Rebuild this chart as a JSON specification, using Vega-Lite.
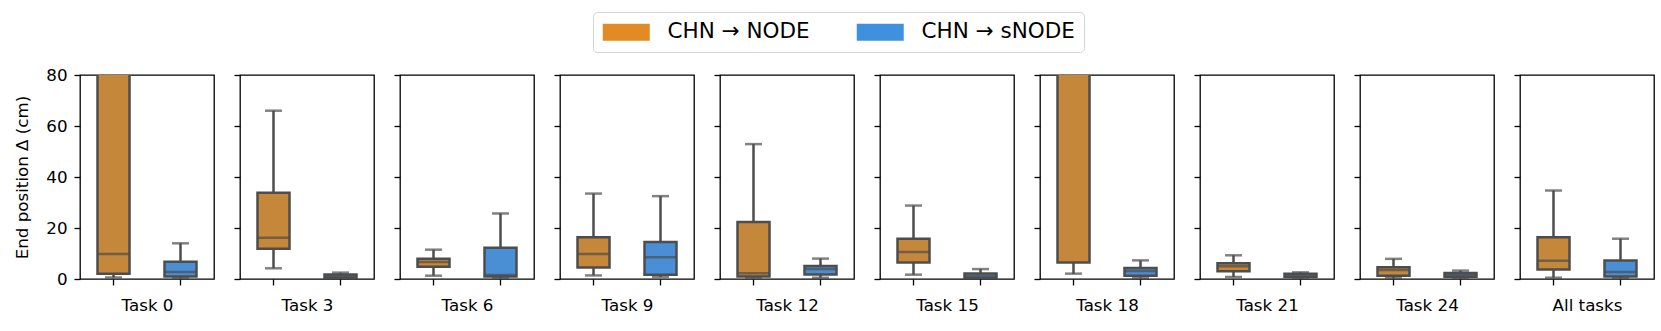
{
"$schema": "https://vega.github.io/schema/vega-lite/v6.json",
"padding": {"left": 14, "top": 11, "right": 10, "bottom": 5},
"background": "white",
"config": {
  "font": "DejaVu Sans",
  "view": {"stroke": "black", "strokeWidth": 1.3},
  "axis": {"domain": false, "grid": false, "tickColor": "black", "tickWidth": 1.3, "tickSize": 6, "labelFontSize": 16.7, "labelColor": "black", "labelPadding": 7, "titleFontSize": 16.7, "titleFontWeight": "normal", "titleColor": "black"},
  "axisX": {"titlePadding": 12},
  "axisY": {"titlePadding": 14},
  "concat": {"spacing": 17}
},
"datasets": {
  "boxes": [
    {"task": "Task 0", "model": "CHN → NODE", "lo": 0.6, "q1": 2.1, "med": 9.8, "q3": 130, "hi": 250},
    {"task": "Task 0", "model": "CHN → sNODE", "lo": 0.4, "q1": 1.0, "med": 2.7, "q3": 6.8, "hi": 14.0},
    {"task": "Task 3", "model": "CHN → NODE", "lo": 4.2, "q1": 11.9, "med": 16.2, "q3": 33.8, "hi": 66.0},
    {"task": "Task 3", "model": "CHN → sNODE", "lo": 0.2, "q1": 0.5, "med": 1.1, "q3": 1.8, "hi": 2.5},
    {"task": "Task 6", "model": "CHN → NODE", "lo": 1.3, "q1": 4.8, "med": 6.7, "q3": 7.9, "hi": 11.5},
    {"task": "Task 6", "model": "CHN → sNODE", "lo": 0.3, "q1": 1.0, "med": 1.6, "q3": 12.3, "hi": 25.7},
    {"task": "Task 9", "model": "CHN → NODE", "lo": 1.4, "q1": 4.5, "med": 9.8, "q3": 16.4, "hi": 33.5},
    {"task": "Task 9", "model": "CHN → sNODE", "lo": 0.8, "q1": 1.7, "med": 8.5, "q3": 14.5, "hi": 32.5},
    {"task": "Task 12", "model": "CHN → NODE", "lo": 0.5, "q1": 1.0, "med": 2.3, "q3": 22.4, "hi": 52.9},
    {"task": "Task 12", "model": "CHN → sNODE", "lo": 0.5, "q1": 1.8, "med": 3.9, "q3": 5.1, "hi": 8.0},
    {"task": "Task 15", "model": "CHN → NODE", "lo": 1.7, "q1": 6.5, "med": 10.6, "q3": 15.8, "hi": 28.8},
    {"task": "Task 15", "model": "CHN → sNODE", "lo": 0.1, "q1": 0.4, "med": 1.2, "q3": 2.2, "hi": 3.9},
    {"task": "Task 18", "model": "CHN → NODE", "lo": 2.1, "q1": 6.5, "med": 100, "q3": 200, "hi": 400},
    {"task": "Task 18", "model": "CHN → sNODE", "lo": 0.5, "q1": 1.3, "med": 3.1, "q3": 4.3, "hi": 7.3},
    {"task": "Task 21", "model": "CHN → NODE", "lo": 0.8, "q1": 3.0, "med": 5.0, "q3": 6.2, "hi": 9.3},
    {"task": "Task 21", "model": "CHN → sNODE", "lo": 0.3, "q1": 0.8, "med": 1.4, "q3": 2.1, "hi": 2.6},
    {"task": "Task 24", "model": "CHN → NODE", "lo": 0.3, "q1": 1.3, "med": 3.5, "q3": 4.6, "hi": 7.9},
    {"task": "Task 24", "model": "CHN → sNODE", "lo": 0.2, "q1": 0.9, "med": 1.7, "q3": 2.4, "hi": 3.3},
    {"task": "All tasks", "model": "CHN → NODE", "lo": 0.5, "q1": 3.7, "med": 7.2, "q3": 16.4, "hi": 34.7},
    {"task": "All tasks", "model": "CHN → sNODE", "lo": 0.3, "q1": 1.0, "med": 2.7, "q3": 7.3, "hi": 15.8}
  ]
},
"data": {"name": "boxes"},
"hconcat": [
{"width": 134, "height": 204, "transform": [{"filter": "datum.task === 'Task 0'"}],
 "encoding": {"x": {"field": "model", "type": "nominal", "scale": {"domain": ["CHN → NODE", "CHN → sNODE"], "paddingInner": 0, "paddingOuter": 0}, "axis": {"labels": false, "title": "Task 0"}}},
 "layer": [
  {"mark": {"type": "rule", "clip": true, "color": "#4d4d4d", "strokeWidth": 2.5}, "encoding": {"y": {"field": "lo", "type": "quantitative", "scale": {"domain": [0, 80], "nice": false, "zero": false}, "axis": {"values": [0, 20, 40, 60, 80], "title": "End position Δ (cm)"}}, "y2": {"field": "hi"}}},
  {"mark": {"type": "bar", "clip": true, "opacity": 0, "width": 32}, "encoding": {"y": {"field": "q1", "type": "quantitative"}, "y2": {"field": "q3"},
    "color": {"field": "model", "type": "nominal", "scale": {"domain": ["CHN → NODE", "CHN → sNODE"], "range": ["#E28A24", "#3F91E0"]}, "legend": {"title": null, "orient": "none", "legendX": 513, "legendY": -63, "direction": "horizontal", "symbolType": "M-1,-0.85H3.7V0.85H-1Z", "symbolSize": 400, "symbolStrokeWidth": 0, "symbolOpacity": 1, "labelOffset": 44, "columnPadding": 46, "labelFontSize": 21.5, "labelColor": "black", "padding": 9, "strokeColor": "#d4d4d4", "fillColor": "white", "cornerRadius": 4, "labelLimit": 400}}}},
  {"mark": {"type": "bar", "clip": true, "width": 32, "stroke": "#4d4d4d", "strokeWidth": 2.5}, "encoding": {"y": {"field": "q1", "type": "quantitative"}, "y2": {"field": "q3"}, "fill": {"field": "model", "type": "nominal", "scale": {"domain": ["CHN → NODE", "CHN → sNODE"], "range": ["#C5873A", "#4A8FD6"]}, "legend": null}}},
  {"mark": {"type": "tick", "clip": true, "color": "#4d4d4d", "thickness": 2.5, "size": 32}, "encoding": {"y": {"field": "med", "type": "quantitative"}}},
  {"mark": {"type": "tick", "clip": true, "color": "#4d4d4d", "thickness": 2.5, "size": 17}, "encoding": {"y": {"field": "lo", "type": "quantitative"}}},
  {"mark": {"type": "tick", "clip": true, "color": "#4d4d4d", "thickness": 2.5, "size": 17}, "encoding": {"y": {"field": "hi", "type": "quantitative"}}}
 ]},
{"width": 134, "height": 204, "transform": [{"filter": "datum.task === 'Task 3'"}],
 "encoding": {"x": {"field": "model", "type": "nominal", "scale": {"domain": ["CHN → NODE", "CHN → sNODE"], "paddingInner": 0, "paddingOuter": 0}, "axis": {"labels": false, "title": "Task 3"}}},
 "layer": [
  {"mark": {"type": "rule", "clip": true, "color": "#4d4d4d", "strokeWidth": 2.5}, "encoding": {"y": {"field": "lo", "type": "quantitative", "scale": {"domain": [0, 80], "nice": false, "zero": false}, "axis": {"values": [0, 20, 40, 60, 80], "labels": false, "title": null}}, "y2": {"field": "hi"}}},
  {"mark": {"type": "bar", "clip": true, "width": 32, "stroke": "#4d4d4d", "strokeWidth": 2.5}, "encoding": {"y": {"field": "q1", "type": "quantitative"}, "y2": {"field": "q3"}, "fill": {"field": "model", "type": "nominal", "scale": {"domain": ["CHN → NODE", "CHN → sNODE"], "range": ["#C5873A", "#4A8FD6"]}, "legend": null}}},
  {"mark": {"type": "tick", "clip": true, "color": "#4d4d4d", "thickness": 2.5, "size": 32}, "encoding": {"y": {"field": "med", "type": "quantitative"}}},
  {"mark": {"type": "tick", "clip": true, "color": "#4d4d4d", "thickness": 2.5, "size": 17}, "encoding": {"y": {"field": "lo", "type": "quantitative"}}},
  {"mark": {"type": "tick", "clip": true, "color": "#4d4d4d", "thickness": 2.5, "size": 17}, "encoding": {"y": {"field": "hi", "type": "quantitative"}}}
 ]},
{"width": 134, "height": 204, "transform": [{"filter": "datum.task === 'Task 6'"}],
 "encoding": {"x": {"field": "model", "type": "nominal", "scale": {"domain": ["CHN → NODE", "CHN → sNODE"], "paddingInner": 0, "paddingOuter": 0}, "axis": {"labels": false, "title": "Task 6"}}},
 "layer": [
  {"mark": {"type": "rule", "clip": true, "color": "#4d4d4d", "strokeWidth": 2.5}, "encoding": {"y": {"field": "lo", "type": "quantitative", "scale": {"domain": [0, 80], "nice": false, "zero": false}, "axis": {"values": [0, 20, 40, 60, 80], "labels": false, "title": null}}, "y2": {"field": "hi"}}},
  {"mark": {"type": "bar", "clip": true, "width": 32, "stroke": "#4d4d4d", "strokeWidth": 2.5}, "encoding": {"y": {"field": "q1", "type": "quantitative"}, "y2": {"field": "q3"}, "fill": {"field": "model", "type": "nominal", "scale": {"domain": ["CHN → NODE", "CHN → sNODE"], "range": ["#C5873A", "#4A8FD6"]}, "legend": null}}},
  {"mark": {"type": "tick", "clip": true, "color": "#4d4d4d", "thickness": 2.5, "size": 32}, "encoding": {"y": {"field": "med", "type": "quantitative"}}},
  {"mark": {"type": "tick", "clip": true, "color": "#4d4d4d", "thickness": 2.5, "size": 17}, "encoding": {"y": {"field": "lo", "type": "quantitative"}}},
  {"mark": {"type": "tick", "clip": true, "color": "#4d4d4d", "thickness": 2.5, "size": 17}, "encoding": {"y": {"field": "hi", "type": "quantitative"}}}
 ]},
{"width": 134, "height": 204, "transform": [{"filter": "datum.task === 'Task 9'"}],
 "encoding": {"x": {"field": "model", "type": "nominal", "scale": {"domain": ["CHN → NODE", "CHN → sNODE"], "paddingInner": 0, "paddingOuter": 0}, "axis": {"labels": false, "title": "Task 9"}}},
 "layer": [
  {"mark": {"type": "rule", "clip": true, "color": "#4d4d4d", "strokeWidth": 2.5}, "encoding": {"y": {"field": "lo", "type": "quantitative", "scale": {"domain": [0, 80], "nice": false, "zero": false}, "axis": {"values": [0, 20, 40, 60, 80], "labels": false, "title": null}}, "y2": {"field": "hi"}}},
  {"mark": {"type": "bar", "clip": true, "width": 32, "stroke": "#4d4d4d", "strokeWidth": 2.5}, "encoding": {"y": {"field": "q1", "type": "quantitative"}, "y2": {"field": "q3"}, "fill": {"field": "model", "type": "nominal", "scale": {"domain": ["CHN → NODE", "CHN → sNODE"], "range": ["#C5873A", "#4A8FD6"]}, "legend": null}}},
  {"mark": {"type": "tick", "clip": true, "color": "#4d4d4d", "thickness": 2.5, "size": 32}, "encoding": {"y": {"field": "med", "type": "quantitative"}}},
  {"mark": {"type": "tick", "clip": true, "color": "#4d4d4d", "thickness": 2.5, "size": 17}, "encoding": {"y": {"field": "lo", "type": "quantitative"}}},
  {"mark": {"type": "tick", "clip": true, "color": "#4d4d4d", "thickness": 2.5, "size": 17}, "encoding": {"y": {"field": "hi", "type": "quantitative"}}}
 ]},
{"width": 134, "height": 204, "transform": [{"filter": "datum.task === 'Task 12'"}],
 "encoding": {"x": {"field": "model", "type": "nominal", "scale": {"domain": ["CHN → NODE", "CHN → sNODE"], "paddingInner": 0, "paddingOuter": 0}, "axis": {"labels": false, "title": "Task 12"}}},
 "layer": [
  {"mark": {"type": "rule", "clip": true, "color": "#4d4d4d", "strokeWidth": 2.5}, "encoding": {"y": {"field": "lo", "type": "quantitative", "scale": {"domain": [0, 80], "nice": false, "zero": false}, "axis": {"values": [0, 20, 40, 60, 80], "labels": false, "title": null}}, "y2": {"field": "hi"}}},
  {"mark": {"type": "bar", "clip": true, "width": 32, "stroke": "#4d4d4d", "strokeWidth": 2.5}, "encoding": {"y": {"field": "q1", "type": "quantitative"}, "y2": {"field": "q3"}, "fill": {"field": "model", "type": "nominal", "scale": {"domain": ["CHN → NODE", "CHN → sNODE"], "range": ["#C5873A", "#4A8FD6"]}, "legend": null}}},
  {"mark": {"type": "tick", "clip": true, "color": "#4d4d4d", "thickness": 2.5, "size": 32}, "encoding": {"y": {"field": "med", "type": "quantitative"}}},
  {"mark": {"type": "tick", "clip": true, "color": "#4d4d4d", "thickness": 2.5, "size": 17}, "encoding": {"y": {"field": "lo", "type": "quantitative"}}},
  {"mark": {"type": "tick", "clip": true, "color": "#4d4d4d", "thickness": 2.5, "size": 17}, "encoding": {"y": {"field": "hi", "type": "quantitative"}}}
 ]},
{"width": 134, "height": 204, "transform": [{"filter": "datum.task === 'Task 15'"}],
 "encoding": {"x": {"field": "model", "type": "nominal", "scale": {"domain": ["CHN → NODE", "CHN → sNODE"], "paddingInner": 0, "paddingOuter": 0}, "axis": {"labels": false, "title": "Task 15"}}},
 "layer": [
  {"mark": {"type": "rule", "clip": true, "color": "#4d4d4d", "strokeWidth": 2.5}, "encoding": {"y": {"field": "lo", "type": "quantitative", "scale": {"domain": [0, 80], "nice": false, "zero": false}, "axis": {"values": [0, 20, 40, 60, 80], "labels": false, "title": null}}, "y2": {"field": "hi"}}},
  {"mark": {"type": "bar", "clip": true, "width": 32, "stroke": "#4d4d4d", "strokeWidth": 2.5}, "encoding": {"y": {"field": "q1", "type": "quantitative"}, "y2": {"field": "q3"}, "fill": {"field": "model", "type": "nominal", "scale": {"domain": ["CHN → NODE", "CHN → sNODE"], "range": ["#C5873A", "#4A8FD6"]}, "legend": null}}},
  {"mark": {"type": "tick", "clip": true, "color": "#4d4d4d", "thickness": 2.5, "size": 32}, "encoding": {"y": {"field": "med", "type": "quantitative"}}},
  {"mark": {"type": "tick", "clip": true, "color": "#4d4d4d", "thickness": 2.5, "size": 17}, "encoding": {"y": {"field": "lo", "type": "quantitative"}}},
  {"mark": {"type": "tick", "clip": true, "color": "#4d4d4d", "thickness": 2.5, "size": 17}, "encoding": {"y": {"field": "hi", "type": "quantitative"}}}
 ]},
{"width": 134, "height": 204, "transform": [{"filter": "datum.task === 'Task 18'"}],
 "encoding": {"x": {"field": "model", "type": "nominal", "scale": {"domain": ["CHN → NODE", "CHN → sNODE"], "paddingInner": 0, "paddingOuter": 0}, "axis": {"labels": false, "title": "Task 18"}}},
 "layer": [
  {"mark": {"type": "rule", "clip": true, "color": "#4d4d4d", "strokeWidth": 2.5}, "encoding": {"y": {"field": "lo", "type": "quantitative", "scale": {"domain": [0, 80], "nice": false, "zero": false}, "axis": {"values": [0, 20, 40, 60, 80], "labels": false, "title": null}}, "y2": {"field": "hi"}}},
  {"mark": {"type": "bar", "clip": true, "width": 32, "stroke": "#4d4d4d", "strokeWidth": 2.5}, "encoding": {"y": {"field": "q1", "type": "quantitative"}, "y2": {"field": "q3"}, "fill": {"field": "model", "type": "nominal", "scale": {"domain": ["CHN → NODE", "CHN → sNODE"], "range": ["#C5873A", "#4A8FD6"]}, "legend": null}}},
  {"mark": {"type": "tick", "clip": true, "color": "#4d4d4d", "thickness": 2.5, "size": 32}, "encoding": {"y": {"field": "med", "type": "quantitative"}}},
  {"mark": {"type": "tick", "clip": true, "color": "#4d4d4d", "thickness": 2.5, "size": 17}, "encoding": {"y": {"field": "lo", "type": "quantitative"}}},
  {"mark": {"type": "tick", "clip": true, "color": "#4d4d4d", "thickness": 2.5, "size": 17}, "encoding": {"y": {"field": "hi", "type": "quantitative"}}}
 ]},
{"width": 134, "height": 204, "transform": [{"filter": "datum.task === 'Task 21'"}],
 "encoding": {"x": {"field": "model", "type": "nominal", "scale": {"domain": ["CHN → NODE", "CHN → sNODE"], "paddingInner": 0, "paddingOuter": 0}, "axis": {"labels": false, "title": "Task 21"}}},
 "layer": [
  {"mark": {"type": "rule", "clip": true, "color": "#4d4d4d", "strokeWidth": 2.5}, "encoding": {"y": {"field": "lo", "type": "quantitative", "scale": {"domain": [0, 80], "nice": false, "zero": false}, "axis": {"values": [0, 20, 40, 60, 80], "labels": false, "title": null}}, "y2": {"field": "hi"}}},
  {"mark": {"type": "bar", "clip": true, "width": 32, "stroke": "#4d4d4d", "strokeWidth": 2.5}, "encoding": {"y": {"field": "q1", "type": "quantitative"}, "y2": {"field": "q3"}, "fill": {"field": "model", "type": "nominal", "scale": {"domain": ["CHN → NODE", "CHN → sNODE"], "range": ["#C5873A", "#4A8FD6"]}, "legend": null}}},
  {"mark": {"type": "tick", "clip": true, "color": "#4d4d4d", "thickness": 2.5, "size": 32}, "encoding": {"y": {"field": "med", "type": "quantitative"}}},
  {"mark": {"type": "tick", "clip": true, "color": "#4d4d4d", "thickness": 2.5, "size": 17}, "encoding": {"y": {"field": "lo", "type": "quantitative"}}},
  {"mark": {"type": "tick", "clip": true, "color": "#4d4d4d", "thickness": 2.5, "size": 17}, "encoding": {"y": {"field": "hi", "type": "quantitative"}}}
 ]},
{"width": 134, "height": 204, "transform": [{"filter": "datum.task === 'Task 24'"}],
 "encoding": {"x": {"field": "model", "type": "nominal", "scale": {"domain": ["CHN → NODE", "CHN → sNODE"], "paddingInner": 0, "paddingOuter": 0}, "axis": {"labels": false, "title": "Task 24"}}},
 "layer": [
  {"mark": {"type": "rule", "clip": true, "color": "#4d4d4d", "strokeWidth": 2.5}, "encoding": {"y": {"field": "lo", "type": "quantitative", "scale": {"domain": [0, 80], "nice": false, "zero": false}, "axis": {"values": [0, 20, 40, 60, 80], "labels": false, "title": null}}, "y2": {"field": "hi"}}},
  {"mark": {"type": "bar", "clip": true, "width": 32, "stroke": "#4d4d4d", "strokeWidth": 2.5}, "encoding": {"y": {"field": "q1", "type": "quantitative"}, "y2": {"field": "q3"}, "fill": {"field": "model", "type": "nominal", "scale": {"domain": ["CHN → NODE", "CHN → sNODE"], "range": ["#C5873A", "#4A8FD6"]}, "legend": null}}},
  {"mark": {"type": "tick", "clip": true, "color": "#4d4d4d", "thickness": 2.5, "size": 32}, "encoding": {"y": {"field": "med", "type": "quantitative"}}},
  {"mark": {"type": "tick", "clip": true, "color": "#4d4d4d", "thickness": 2.5, "size": 17}, "encoding": {"y": {"field": "lo", "type": "quantitative"}}},
  {"mark": {"type": "tick", "clip": true, "color": "#4d4d4d", "thickness": 2.5, "size": 17}, "encoding": {"y": {"field": "hi", "type": "quantitative"}}}
 ]},
{"width": 134, "height": 204, "transform": [{"filter": "datum.task === 'All tasks'"}],
 "encoding": {"x": {"field": "model", "type": "nominal", "scale": {"domain": ["CHN → NODE", "CHN → sNODE"], "paddingInner": 0, "paddingOuter": 0}, "axis": {"labels": false, "title": "All tasks"}}},
 "layer": [
  {"mark": {"type": "rule", "clip": true, "color": "#4d4d4d", "strokeWidth": 2.5}, "encoding": {"y": {"field": "lo", "type": "quantitative", "scale": {"domain": [0, 80], "nice": false, "zero": false}, "axis": {"values": [0, 20, 40, 60, 80], "labels": false, "title": null}}, "y2": {"field": "hi"}}},
  {"mark": {"type": "bar", "clip": true, "width": 32, "stroke": "#4d4d4d", "strokeWidth": 2.5}, "encoding": {"y": {"field": "q1", "type": "quantitative"}, "y2": {"field": "q3"}, "fill": {"field": "model", "type": "nominal", "scale": {"domain": ["CHN → NODE", "CHN → sNODE"], "range": ["#C5873A", "#4A8FD6"]}, "legend": null}}},
  {"mark": {"type": "tick", "clip": true, "color": "#4d4d4d", "thickness": 2.5, "size": 32}, "encoding": {"y": {"field": "med", "type": "quantitative"}}},
  {"mark": {"type": "tick", "clip": true, "color": "#4d4d4d", "thickness": 2.5, "size": 17}, "encoding": {"y": {"field": "lo", "type": "quantitative"}}},
  {"mark": {"type": "tick", "clip": true, "color": "#4d4d4d", "thickness": 2.5, "size": 17}, "encoding": {"y": {"field": "hi", "type": "quantitative"}}}
 ]}
]
}
